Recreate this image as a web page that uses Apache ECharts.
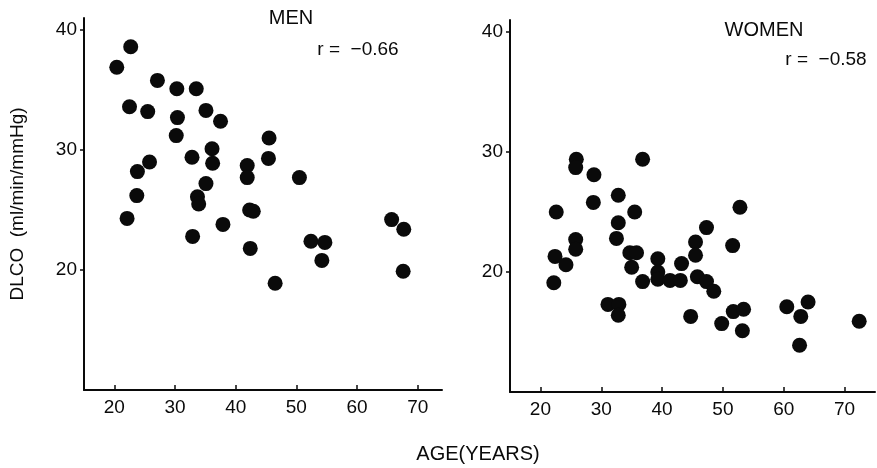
<!DOCTYPE html>
<html>
<head>
<meta charset="utf-8">
<script src="https://cdn.jsdelivr.net/npm/echarts@6/dist/echarts.min.js"></script>
<style>
  html, body { margin: 0; padding: 0; background: #fff; }
  #chart { width: 877px; height: 468px; }
</style>
</head>
<body>
<div id="chart"></div>
<script>
// values
const menAge = [20.4, 22.7, 27.1, 30.3, 33.5, 22.5, 25.5, 30.4, 35.1, 37.5,
  30.2, 45.5, 36.1, 32.8, 25.8, 36.2, 41.9, 45.4, 23.8, 41.9,
  50.5, 35.1, 23.7, 33.7, 33.9, 42.3, 42.9, 22.1, 37.9, 65.7,
  67.7, 32.9, 42.4, 52.4, 54.7, 54.2, 46.5, 67.6];
const menDlco = [36.9, 38.6, 35.8, 35.1, 35.1, 33.6, 33.2, 32.7, 33.3, 32.4,
  31.2, 31.0, 30.1, 29.4, 29.0, 28.9, 28.7, 29.3, 28.2, 27.7,
  27.7, 27.2, 26.2, 26.1, 25.5, 25.0, 24.9, 24.3, 23.8, 24.2,
  23.4, 22.8, 21.8, 22.4, 22.3, 20.8, 18.9, 19.9];

const womenAge = [25.9, 25.8, 28.8, 36.8, 22.6, 28.7, 32.8, 35.5, 32.8, 52.8,
  47.3, 32.5, 25.8, 25.8, 22.4, 24.2, 22.2, 34.7, 35.8, 35.0,
  36.8, 39.3, 39.3, 39.3, 41.3, 43.2, 43.0, 45.5, 45.5, 45.8,
  47.3, 48.5, 51.6, 31.1, 32.9, 32.8, 44.7, 49.8, 51.7, 53.4,
  53.2, 60.5, 64.0, 62.8, 62.6, 72.4];
const womenDlco = [29.4, 28.7, 28.1, 29.4, 25.0, 25.8, 26.4, 25.0, 24.1, 25.4,
  23.7, 22.8, 22.7, 21.9, 21.3, 20.6, 19.1, 21.6, 21.6, 20.4,
  19.2, 21.1, 20.0, 19.4, 19.3, 20.7, 19.3, 22.5, 21.4, 19.6,
  19.2, 18.4, 22.2, 17.3, 17.3, 16.4, 16.3, 15.7, 16.7, 16.9,
  15.1, 17.1, 17.5, 16.3, 13.9, 15.9];

const ageTicks = [20, 30, 40, 50, 60, 70];
const dlcoTicks = [20, 30, 40];

const pairs = (xs, ys) => xs.map((x, i) => [x, ys[i]]);

const font = 'Liberation Sans, Arial, Helvetica, sans-serif';
const ink = '#0a0a0a';

function xAxisFor(idx, min, max) {
  return {
    type: 'value', gridIndex: idx, min: min, max: max,
    splitLine: { show: false },
    axisLine: { lineStyle: { color: ink, width: 2 } },
    axisTick: { inside: true, length: 5, customValues: ageTicks, lineStyle: { color: ink, width: 1.5 } },
    axisLabel: { customValues: ageTicks, margin: 8, color: ink, fontSize: 19, fontFamily: font }
  };
}
function yAxisFor(idx) {
  return {
    type: 'value', gridIndex: idx, min: 10, max: 41,
    splitLine: { show: false },
    axisLine: { lineStyle: { color: ink, width: 2 } },
    axisTick: { length: 4, customValues: dlcoTicks, lineStyle: { color: ink, width: 1.5 } },
    axisLabel: { customValues: dlcoTicks, margin: 7, color: ink, fontSize: 19, fontFamily: font }
  };
}

function label(text, x, y, size) {
  return {
    type: 'text', x: x, y: y,
    style: { text: text, fill: ink, font: size + 'px ' + font, align: 'center', verticalAlign: 'middle' }
  };
}

const chart = echarts.init(document.getElementById('chart'));

const yLeft = yAxisFor(0);
yLeft.name = 'DLCO  (ml/min/mmHg)';
yLeft.nameLocation = 'middle';
yLeft.nameRotate = 90;
yLeft.nameGap = 57;
yLeft.nameTextStyle = { color: ink, fontSize: 19, fontFamily: font };

const option = {
  animation: false,
  backgroundColor: '#fff',
  grid: [
    { left: 84, top: 18, width: 358, height: 372 },
    { left: 510, top: 20, width: 365, height: 372 }
  ],
  xAxis: [xAxisFor(0, 15, 74), xAxisFor(1, 15, 75)],
  yAxis: [yLeft, yAxisFor(1)],
  graphic: [
    label('MEN', 291, 18, 20),
    label('r =  −0.66', 358, 50, 19),
    label('WOMEN', 764, 30, 20),
    label('r =  −0.58', 826, 60, 19),
    label('AGE(YEARS)', 478, 454, 20)
  ],
  series: [
    {
      name: 'MEN', type: 'scatter', xAxisIndex: 0, yAxisIndex: 0,
      symbolSize: 15, itemStyle: { color: ink, opacity: 1 },
      data: pairs(menAge, menDlco)
    },
    {
      name: 'WOMEN', type: 'scatter', xAxisIndex: 1, yAxisIndex: 1,
      symbolSize: 15, itemStyle: { color: ink, opacity: 1 },
      data: pairs(womenAge, womenDlco)
    }
  ]
};

chart.setOption(option);
</script>
</body>
</html>
